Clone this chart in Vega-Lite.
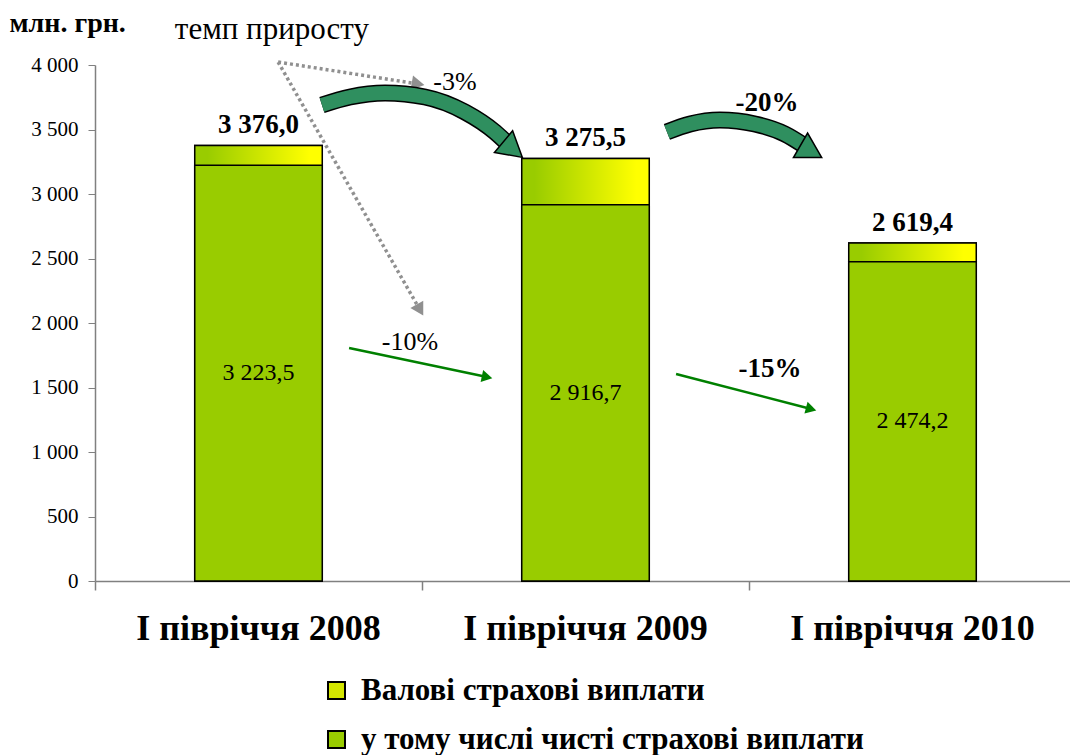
{
  "$schema": "https://vega.github.io/schema/vega-lite/v6.json",
  "width": 975,
  "height": 516,
  "autosize": {"type": "none"},
  "padding": {"left": 95, "top": 65, "right": 0, "bottom": 174},
  "background": "white",
  "config": {
    "font": "Times New Roman",
    "view": {"stroke": null},
    "locale": {"number": {"decimal": ",", "thousands": "\u00a0", "grouping": [3], "currency": ["", ""]}}
  },
  "datasets": {
    "bars": [
      {"period": "І півріччя 2008", "Валові страхові виплати": 3376.0, "у тому числі чисті страхові виплати": 3223.5},
      {"period": "І півріччя 2009", "Валові страхові виплати": 3275.5, "у тому числі чисті страхові виплати": 2916.7},
      {"period": "І півріччя 2010", "Валові страхові виплати": 2619.4, "у тому числі чисті страхові виплати": 2474.2}
    ],
    "dotted": [
      {"x": 0.56, "y": 4023, "x2": 0.988, "y2": 3853, "angle": 10},
      {"x": 0.56, "y": 4023, "x2": 0.994, "y2": 2101, "angle": 60}
    ],
    "straight": [
      {"x": 0.777, "y": 1806, "x2": 1.199, "y2": 1581, "angle": 12},
      {"x": 1.777, "y": 1605, "x2": 2.19, "y2": 1333, "angle": 15}
    ],
    "curved": [
      {"arrow": "a", "i": 0, "x": 0.694, "y": 3690},
      {"arrow": "a", "i": 1, "x": 0.78, "y": 3752},
      {"arrow": "a", "i": 2, "x": 0.887, "y": 3783},
      {"arrow": "a", "i": 3, "x": 1.009, "y": 3752},
      {"arrow": "a", "i": 4, "x": 1.131, "y": 3636},
      {"arrow": "a", "i": 5, "x": 1.223, "y": 3481},
      {"arrow": "a", "i": 6, "x": 1.263, "y": 3388},
      {"arrow": "b", "i": 0, "x": 1.749, "y": 3481},
      {"arrow": "b", "i": 1, "x": 1.82, "y": 3543},
      {"arrow": "b", "i": 2, "x": 1.911, "y": 3574},
      {"arrow": "b", "i": 3, "x": 2.018, "y": 3543},
      {"arrow": "b", "i": 4, "x": 2.11, "y": 3465},
      {"arrow": "b", "i": 5, "x": 2.171, "y": 3372}
    ],
    "curvedHeads": [
      {"x": 1.278, "y": 3345, "angle": 40},
      {"x": 2.19, "y": 3330, "angle": 30}
    ],
    "noteBig": [
      {"label": "темп приросту", "x": 0.541, "y": 4271}
    ],
    "noteNormal": [
      {"label": "-3%", "x": 1.101, "y": 3868},
      {"label": "-10%", "x": 0.963, "y": 1853}
    ],
    "noteBold": [
      {"label": "-20%", "x": 2.055, "y": 3705},
      {"label": "-15%", "x": 2.064, "y": 1643}
    ]
  },
  "resolve": {"scale": {"x": "independent"}, "axis": {"x": "independent"}},
  "layer": [
    {
      "data": {"name": "bars"},
      "layer": [
        {
          "transform": [{"fold": ["Валові страхові виплати", "у тому числі чисті страхові виплати"], "as": ["series", "value"]}],
          "mark": {"type": "bar", "width": {"band": 0.39}, "stroke": "black", "strokeWidth": 1.5},
          "encoding": {
            "x": {"field": "period", "type": "nominal", "sort": null,
              "scale": {"range": [0, 981], "paddingInner": 0, "paddingOuter": 0},
              "axis": {"title": null, "ticks": false, "domainColor": "#808080", "domainWidth": 1.5, "labelAngle": 0, "labelLimit": 500,
                "labelFont": "Times New Roman", "labelFontWeight": "bold", "labelFontSize": 36, "labelColor": "black", "labelPadding": 30}},
            "y": {"field": "value", "type": "quantitative", "stack": null,
              "scale": {"domain": [0, 4000], "nice": false},
              "axis": {"title": "млн. грн.", "titleAngle": 0, "titleAlign": "left", "titleBaseline": "top", "titleX": -86, "titleY": -56,
                "titleFont": "Times New Roman", "titleFontSize": 28, "titleFontWeight": "bold", "titleColor": "black",
                "values": [0, 500, 1000, 1500, 2000, 2500, 3000, 3500, 4000], "format": ",.0f", "grid": false,
                "tickSize": 7, "tickColor": "#808080", "domainColor": "#808080", "domainWidth": 1.5,
                "labelFont": "Times New Roman", "labelFontSize": 21, "labelColor": "black", "labelPadding": 10}},
            "color": {"field": "series", "type": "nominal",
              "scale": {"domain": ["Валові страхові виплати", "у тому числі чисті страхові виплати"],
                "range": ["#d4e600", "#99cc00"]},
              "legend": {"title": null, "orient": "none", "legendX": 226, "legendY": 610, "direction": "vertical",
                "symbolType": "square", "symbolSize": 289, "symbolStrokeColor": "black", "symbolStrokeWidth": 2, "symbolOpacity": 1,
                "labelFont": "Times New Roman", "labelFontSize": 31, "labelFontWeight": "bold", "labelColor": "black",
                "labelOffset": 9, "rowPadding": 17, "labelLimit": 700}}
          }
        },
        {
          "mark": {"type": "bar", "width": {"band": 0.39}, "stroke": "black", "strokeWidth": 1.5,
            "fill": {"gradient": "linear", "x1": 0, "y1": 0, "x2": 1, "y2": 0, "stops": [{"offset": 0.1, "color": "#99cc00"}, {"offset": 0.9, "color": "#ffff00"}]}},
          "encoding": {
            "x": {"field": "period", "type": "nominal", "sort": null},
            "y": {"field": "Валові страхові виплати", "type": "quantitative"}
          }
        },
        {
          "mark": {"type": "bar", "width": {"band": 0.39}, "stroke": "black", "strokeWidth": 1.5, "fill": "#99cc00"},
          "encoding": {
            "x": {"field": "period", "type": "nominal", "sort": null},
            "y": {"field": "у тому числі чисті страхові виплати", "type": "quantitative"}
          }
        },
        {
          "mark": {"type": "text", "baseline": "bottom", "dy": -6, "fontSize": 27, "fontWeight": "bold", "font": "Times New Roman", "color": "black"},
          "encoding": {
            "x": {"field": "period", "type": "nominal", "sort": null},
            "y": {"field": "Валові страхові виплати", "type": "quantitative"},
            "text": {"field": "Валові страхові виплати", "type": "quantitative", "format": ",.1f"}
          }
        },
        {
          "transform": [{"calculate": "datum['у тому числі чисті страхові виплати'] / 2", "as": "mid"}],
          "mark": {"type": "text", "baseline": "middle", "fontSize": 24, "font": "Times New Roman", "color": "black"},
          "encoding": {
            "x": {"field": "period", "type": "nominal", "sort": null},
            "y": {"field": "mid", "type": "quantitative"},
            "text": {"field": "у тому числі чисті страхові виплати", "type": "quantitative", "format": ",.1f"}
          }
        }
      ]
    },
    {
      "layer": [
        {
          "data": {"name": "dotted"},
          "mark": {"type": "rule", "color": "#909090", "strokeWidth": 3.5, "strokeDash": [3, 3]},
          "encoding": {
            "x": {"field": "x", "type": "quantitative",
              "scale": {"domain": [0, 3], "range": [0, 981], "nice": false, "zero": false},
              "axis": {"orient": "bottom", "values": [0, 1, 2, 3], "labels": false, "domain": false, "grid": false, "title": null, "tickSize": 9, "tickColor": "#808080", "tickWidth": 1.5}},
            "y": {"field": "y", "type": "quantitative"},
            "x2": {"field": "x2"},
            "y2": {"field": "y2"}
          }
        },
        {
          "data": {"name": "dotted"},
          "mark": {"type": "point", "shape": "triangle-right", "filled": true, "color": "#909090", "size": 220, "opacity": 1},
          "encoding": {
            "x": {"field": "x2", "type": "quantitative"},
            "y": {"field": "y2", "type": "quantitative"},
            "angle": {"field": "angle", "type": "quantitative", "scale": null}
          }
        },
        {
          "data": {"name": "straight"},
          "mark": {"type": "rule", "color": "#008000", "strokeWidth": 2.5},
          "encoding": {
            "x": {"field": "x", "type": "quantitative"},
            "y": {"field": "y", "type": "quantitative"},
            "x2": {"field": "x2"},
            "y2": {"field": "y2"}
          }
        },
        {
          "data": {"name": "straight"},
          "mark": {"type": "point", "shape": "triangle-right", "filled": true, "color": "#008000", "size": 150, "opacity": 1},
          "encoding": {
            "x": {"field": "x2", "type": "quantitative"},
            "y": {"field": "y2", "type": "quantitative"},
            "angle": {"field": "angle", "type": "quantitative", "scale": null}
          }
        },
        {
          "data": {"name": "curved"},
          "mark": {"type": "line", "interpolate": "monotone", "color": "black", "strokeWidth": 17, "strokeCap": "butt"},
          "encoding": {
            "x": {"field": "x", "type": "quantitative"},
            "y": {"field": "y", "type": "quantitative"},
            "detail": {"field": "arrow", "type": "nominal"},
            "order": {"field": "i", "type": "quantitative"}
          }
        },
        {
          "data": {"name": "curved"},
          "mark": {"type": "line", "interpolate": "monotone", "color": "#2f8f5f", "strokeWidth": 14, "strokeCap": "butt"},
          "encoding": {
            "x": {"field": "x", "type": "quantitative"},
            "y": {"field": "y", "type": "quantitative"},
            "detail": {"field": "arrow", "type": "nominal"},
            "order": {"field": "i", "type": "quantitative"}
          }
        },
        {
          "data": {"name": "curvedHeads"},
          "mark": {"type": "point", "shape": "triangle-right", "filled": true, "fill": "#2f8f5f", "stroke": "black", "strokeWidth": 1.5, "size": 800, "opacity": 1},
          "encoding": {
            "x": {"field": "x", "type": "quantitative"},
            "y": {"field": "y", "type": "quantitative"},
            "angle": {"field": "angle", "type": "quantitative", "scale": null}
          }
        },
        {
          "data": {"name": "noteBig"},
          "mark": {"type": "text", "fontSize": 31, "font": "Times New Roman", "color": "black", "baseline": "middle"},
          "encoding": {
            "x": {"field": "x", "type": "quantitative"},
            "y": {"field": "y", "type": "quantitative"},
            "text": {"field": "label"}
          }
        },
        {
          "data": {"name": "noteNormal"},
          "mark": {"type": "text", "fontSize": 26, "font": "Times New Roman", "color": "black", "baseline": "middle"},
          "encoding": {
            "x": {"field": "x", "type": "quantitative"},
            "y": {"field": "y", "type": "quantitative"},
            "text": {"field": "label"}
          }
        },
        {
          "data": {"name": "noteBold"},
          "mark": {"type": "text", "fontSize": 27, "fontWeight": "bold", "font": "Times New Roman", "color": "black", "baseline": "middle"},
          "encoding": {
            "x": {"field": "x", "type": "quantitative"},
            "y": {"field": "y", "type": "quantitative"},
            "text": {"field": "label"}
          }
        }
      ]
    }
  ]
}
